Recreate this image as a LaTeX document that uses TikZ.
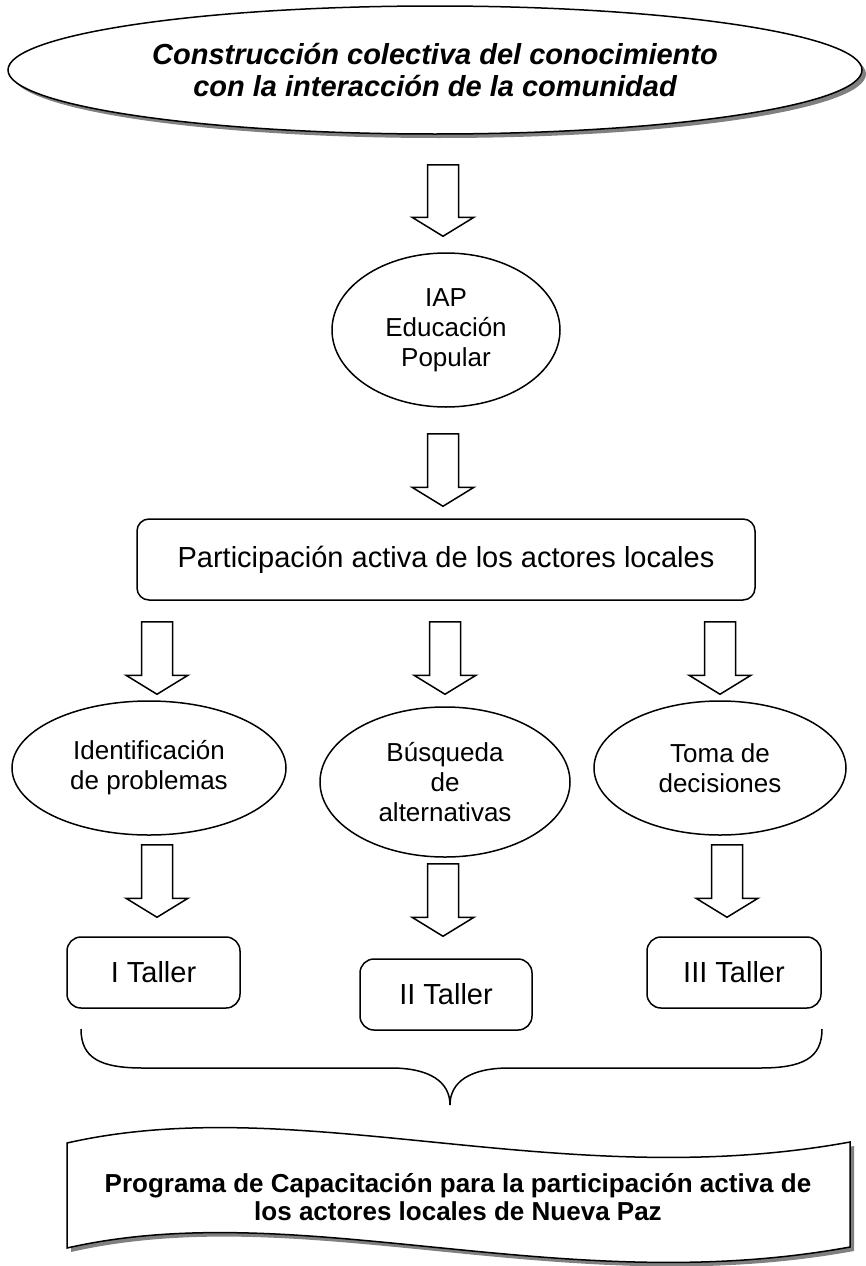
\documentclass[tikz,border=0pt]{standalone}
\usepackage{fontspec}
\setmainfont{Liberation Sans}
\usetikzlibrary{shapes.geometric,shadows,calc}

\tikzset{
  oval/.style={draw, ellipse, line width=1.5pt, inner sep=0pt, align=center,
    font=\fontsize{26}{30}\selectfont},
  taller/.style={draw, rounded corners=14pt, line width=1.5pt, align=center,
    minimum height=71pt, font=\fontsize{29}{33}\selectfont},
  blockarrow/.style={draw, line width=1.5pt, to path={let \p1=(\tikztostart), \p2=(\tikztotarget) in
    (\x1-15.5pt,\y1) -- (\x1+15.5pt,\y1) -- (\x1+15.5pt,\y2+19pt) -- (\x1+31pt,\y2+19pt)
    -- (\x1,\y2) -- (\x1-31pt,\y2+19pt) -- (\x1-15.5pt,\y2+19pt) -- cycle}},
}

\begin{document}
\begin{tikzpicture}[x=1pt,y=-1pt]
  \useasboundingbox (0,0) rectangle (866,1266);

  % top of the scheme
  \node[oval, fill=white, minimum width=854pt, minimum height=128pt,
    drop shadow={shadow xshift=4pt, shadow yshift=-4pt, fill=black!50, opacity=1},
    font=\fontsize{29}{32}\selectfont\bfseries\itshape] (title) at (435,70)
    {Construcción colectiva del conocimiento\\con la interacción de la comunidad};
  \node[oval, minimum width=228pt, minimum height=154pt] (iap) at (446,330)
    {IAP\\Educación\\Popular};
  \node[draw, rounded corners=12pt, line width=1.5pt, minimum width=618pt, minimum height=81pt,
    font=\fontsize{29}{33}\selectfont] (part) at (446,559.5)
    {Participación activa de los actores locales};

  % three steps
  \node[oval, minimum width=274pt, minimum height=134pt] (idp) at (149,768)
    {Identificación\\de problemas};
  \node[oval, minimum width=250pt, minimum height=150pt] (bus) at (445,782)
    {Búsqueda\\de\\alternativas};
  \node[oval, minimum width=252pt, minimum height=134pt] (tom) at (720,768)
    {Toma de\\decisiones};

  % workshops
  \node[taller, minimum width=173pt] (t1) at (153.5,972.5) {I Taller};
  \node[taller, minimum width=172pt] (t2) at (446,994.5) {II Taller};
  \node[taller, minimum width=174pt] (t3) at (734,972.5) {III Taller};

  % arrows
  \draw[blockarrow] ([xshift=8,yshift=-30]title.south) to ([yshift=16]iap.north);
  \draw[blockarrow] ([xshift=-3,yshift=-26]iap.south) to ([yshift=12]iap.south |- part.north);
  \draw[blockarrow] ([xshift=8,yshift=-21]part.south -| idp.north) to ([yshift=6]idp.north);
  \draw[blockarrow] ([yshift=-21]part.south -| bus.north) to ([yshift=12]bus.north);
  \draw[blockarrow] ([yshift=-21]part.south -| tom.north) to ([yshift=6]tom.north);
  \draw[blockarrow] ([xshift=8,yshift=-9]idp.south) to ([yshift=19]t1.north);
  \draw[blockarrow] ([xshift=-2,yshift=-6]bus.south) to ([yshift=22]t2.north);
  \draw[blockarrow] ([xshift=7,yshift=-9]tom.south) to ([yshift=19]t3.north);

  % brace
  \draw[line width=1.5pt] (81,1029) .. controls (81,1058) and (100,1068) .. (143,1068)
    -- (391,1068) .. controls (430,1068) and (450,1082) .. (450,1105)
    .. controls (450,1082) and (470,1068) .. (509,1068)
    -- (760,1068) .. controls (803,1068) and (822,1058) .. (822,1029);

  % program banner
  \fill[black!50, xshift=4pt, yshift=-4pt] (67,1143) .. controls (300,1090) and (560,1195) .. (850,1142)
    -- (850,1247) .. controls (560,1300) and (300,1195) .. (67,1248) -- cycle;
  \draw[line width=1.5pt, fill=white] (67,1143) .. controls (300,1090) and (560,1195) .. (850,1142)
    -- (850,1247) .. controls (560,1300) and (300,1195) .. (67,1248) -- cycle;
  \node[align=center, font=\fontsize{26}{28}\selectfont\bfseries] (prog) at (458,1197)
    {Programa de Capacitación para la participación activa de\\los actores locales de Nueva Paz};
\end{tikzpicture}
\end{document}
